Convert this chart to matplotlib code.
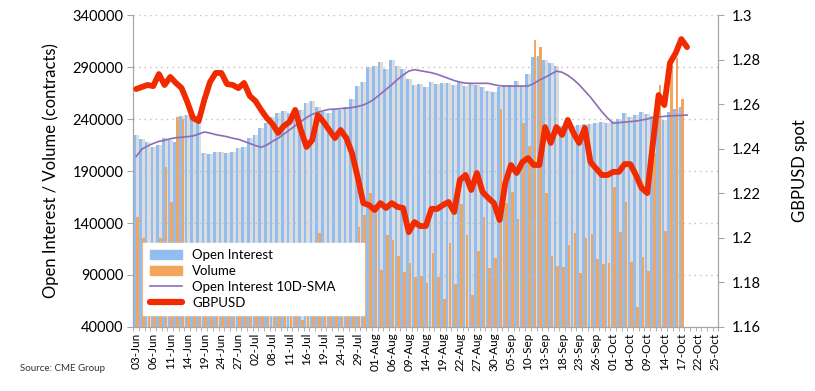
import numpy as np
import matplotlib
matplotlib.use('Agg')
import matplotlib.pyplot as plt
from matplotlib.patches import Patch
from matplotlib.lines import Line2D
from matplotlib.ticker import FuncFormatter

plt.rcParams['font.family'] = ['Lato', 'DejaVu Sans']

# Trading-day categories 03-Jun .. 25-Oct (every 3rd one labelled)
n_categories = 103
tick_labels = ['03-Jun', '06-Jun', '11-Jun', '14-Jun', '19-Jun', '24-Jun', '27-Jun',
               '02-Jul', '08-Jul', '11-Jul', '16-Jul', '19-Jul', '24-Jul', '29-Jul',
               '01-Aug', '06-Aug', '09-Aug', '14-Aug', '19-Aug', '22-Aug', '27-Aug',
               '30-Aug', '05-Sep', '10-Sep', '13-Sep', '18-Sep', '23-Sep', '26-Sep',
               '01-Oct', '04-Oct', '09-Oct', '14-Oct', '17-Oct', '22-Oct', '25-Oct']
left_ticks = [40000, 90000, 140000, 190000, 240000, 290000, 340000]
right_ticks = [1.16, 1.18, 1.20, 1.22, 1.24, 1.26, 1.28, 1.30]

# Open interest (thousand contracts)
open_interest = [224.6, 220.5, 218.2, 213.4, 215.0, 221.5, 219.8, 218.0, 243.0, 243.8,
                 243.5, 242.5, 207.0, 206.5, 208.6, 208.6, 207.0, 208.6, 211.8, 213.4,
                 221.4, 224.6, 231.0, 235.8, 242.2, 246.1, 247.7, 245.5, 247.0, 248.7,
                 255.1, 257.6, 251.2, 247.0, 245.5, 249.3, 248.7, 251.9, 258.9, 271.7,
                 275.6, 290.3, 291.0, 295.1, 288.1, 296.7, 291.0, 287.8, 278.2, 272.7,
                 273.7, 270.5, 275.9, 273.7, 274.3, 274.3, 272.7, 275.3, 271.7, 273.4,
                 272.7, 270.5, 266.9, 266.3, 270.5, 272.7, 272.7, 276.5, 271.7, 283.3,
                 299.3, 301.0, 296.7, 293.5, 291.0, 233.0, 234.0, 233.5, 234.0, 235.0,
                 235.0, 236.0, 237.0, 236.5, 238.0, 240.0, 245.5, 242.0, 243.8, 246.5,
                 244.9, 243.0, 241.0, 239.0, 247.0, 250.0, 252.0]

# Volume (thousand contracts)
volume = [146.0, 125.6, 98.0, 92.0, 125.6, 194.0, 160.5, 242.0, 240.0, 95.0,
          110.0, 88.0, 105.0, 72.0, 80.0, 66.0, 90.0, 78.0, 84.0, 70.0,
          96.0, 88.0, 75.0, 120.5, 82.0, 68.0, 100.0, 74.0, 86.0, 47.0,
          92.0, 106.0, 130.7, 95.0, 78.0, 84.0, 70.0, 90.0, 102.0, 136.5,
          147.7, 169.0, 157.0, 94.8, 128.0, 124.0, 107.8, 93.2, 101.3, 88.0,
          88.7, 82.3, 111.6, 88.4, 66.6, 121.2, 81.2, 157.8, 128.8, 70.3,
          112.7, 145.3, 96.4, 106.0, 249.3, 159.7, 170.1, 143.6, 236.5, 214.5,
          316.0, 309.0, 168.5, 108.7, 99.1, 98.0, 118.4, 130.7, 92.2, 125.9,
          129.7, 105.1, 100.1, 101.3, 175.0, 131.7, 160.5, 102.8, 59.6, 107.6,
          94.2, 207.0, 272.7, 132.6, 291.0, 298.4, 258.9]

# Open interest 10-day SMA (thousand contracts)
oi_sma = [204.0, 211.0, 214.0, 216.5, 218.5, 219.5, 221.0, 222.0, 222.5, 223.0,
          223.7, 225.5, 227.5, 226.5, 225.0, 224.0, 223.0, 221.5, 220.5, 218.5,
          216.5, 214.5, 212.8, 215.0, 218.5, 221.5, 225.5, 229.5, 233.5, 237.5,
          241.5, 244.5, 246.5, 248.0, 249.3, 249.5, 250.0, 250.5, 251.0, 252.0,
          253.5, 256.0, 259.5, 264.0, 268.5, 273.0, 278.0, 282.3, 286.0, 287.5,
          286.5, 285.5, 284.5, 283.0, 281.0, 279.0, 277.0, 275.5, 274.5, 274.3,
          274.3, 274.3, 274.3, 273.0, 272.0, 271.7, 271.7, 271.7, 271.7, 271.7,
          274.0, 277.5, 280.0, 283.0, 286.0, 285.0, 282.0, 278.0, 273.0, 267.0,
          261.0, 254.0, 247.0, 241.0, 236.0, 236.5, 237.0, 237.5, 238.0, 239.0,
          240.0, 241.3, 242.0, 242.5, 243.0, 243.3, 243.5, 243.8]

# GBPUSD spot
gbpusd = [1.2668, 1.2677, 1.2686, 1.2681, 1.2735, 1.2686, 1.2722, 1.2695, 1.2672, 1.2610,
          1.2538, 1.2524, 1.2619, 1.2699, 1.2740, 1.2740, 1.2690, 1.2686, 1.2672, 1.2695,
          1.2637, 1.2614, 1.2574, 1.2538, 1.2511, 1.2471, 1.2502, 1.2520, 1.2574, 1.2484,
          1.2408, 1.2439, 1.2551, 1.2520, 1.2484, 1.2448, 1.2484, 1.2448, 1.2381, 1.2273,
          1.2156, 1.2147, 1.2125, 1.2156, 1.2134, 1.2156, 1.2139, 1.2134, 1.2026, 1.2071,
          1.2053, 1.2053, 1.2130, 1.2130, 1.2147, 1.2161, 1.2116, 1.2260, 1.2282, 1.2215,
          1.2291, 1.2206, 1.2179, 1.2156, 1.2080, 1.2246, 1.2327, 1.2291, 1.2340, 1.2358,
          1.2327, 1.2327, 1.2497, 1.2426, 1.2497, 1.2462, 1.2529, 1.2471, 1.2426, 1.2493,
          1.2340, 1.2311, 1.2282, 1.2282, 1.2296, 1.2296, 1.2331, 1.2331, 1.2282, 1.2224,
          1.2201, 1.2426, 1.2641, 1.2596, 1.2785, 1.2829, 1.2892, 1.2856]

C_OI = '#92BDF0'
C_VOL = '#F4A55C'
C_SHADOW = '#DCDCDC'
C_SMA = '#8C6CB6'
C_FX = '#F02B00'
C_AXIS = '#A6A6A6'

fig = plt.figure(figsize=(8.15, 3.91), dpi=100)
ax = fig.add_axes([0.1636, 0.1637, 0.7177, 0.7979])
ax2 = ax.twinx()

oi = np.array(open_interest) * 1000
vol = np.array(volume) * 1000
sma = np.array(oi_sma) * 1000
x_bar = np.arange(len(oi))

ax.bar(x_bar, oi, width=1.0, color=C_SHADOW, zorder=1)
ax.bar(x_bar - 0.24, oi, width=0.46, color=C_OI, zorder=2)
ax.bar(x_bar + 0.24, vol, width=0.46, color=C_VOL, zorder=2)
ax.plot(np.arange(len(sma)), sma, color=C_SMA, lw=1.2, zorder=3)

ax2.plot(np.arange(len(gbpusd)), gbpusd, color=C_FX, lw=4.2,
         solid_joinstyle='round', solid_capstyle='round', zorder=4)

ax.set_xlim(-0.5, n_categories - 0.5)
ax.set_ylim(left_ticks[0], left_ticks[-1])
ax.set_yticks(left_ticks)
ax2.set_ylim(right_ticks[0], right_ticks[-1])
ax2.set_yticks(right_ticks)
ax2.yaxis.set_major_formatter(FuncFormatter(lambda v, p: f'{v:g}'))

ax.grid(axis='y', color='#BFBFBF', linestyle=(0, (1, 3)), lw=1.0, zorder=2.5)
ax.set_axisbelow(False)

ax.set_xticks(np.arange(0, n_categories, 3))
ax.set_xticklabels(tick_labels, rotation=90, fontsize=8.5)
ax.set_xticks(np.arange(-0.5, n_categories, 1), minor=True)
ax.tick_params(axis='x', which='major', length=0, pad=4)
ax.tick_params(axis='x', which='minor', length=3, color=C_AXIS)
ax.tick_params(axis='y', labelsize=10.5, length=4, color=C_AXIS, pad=3)
ax2.tick_params(axis='y', labelsize=10.5, length=4, color=C_AXIS, pad=6)

for a in (ax, ax2):
    a.spines['top'].set_visible(False)
    for s in ('left', 'right', 'bottom'):
        a.spines[s].set_color(C_AXIS)
ax.set_ylabel('Open Interest / Volume (contracts)', fontsize=12, labelpad=10)
ax2.set_ylabel('GBPUSD spot', fontsize=12, labelpad=22)

handles = [Patch(color=C_OI), Patch(color=C_VOL),
           Line2D([], [], color=C_SMA, lw=1.2),
           Line2D([], [], color=C_FX, lw=4.5, solid_capstyle='round')]
labels = ['Open Interest', 'Volume', 'Open Interest 10D-SMA', 'GBPUSD']
leg = ax2.legend(handles, labels, loc='lower left', bbox_to_anchor=(0.017, 0.038, 0.377, 0.222),
                 mode='expand', fontsize=9.5, frameon=True, fancybox=False,
                 handlelength=2.4, labelspacing=0.28, borderpad=0.5, borderaxespad=0)
leg.get_frame().set_facecolor('white')
leg.get_frame().set_edgecolor('white')
leg.get_frame().set_alpha(1)
leg.set_zorder(10)

fig.text(0.025, 0.052, 'Source: CME Group', fontsize=7, color='#333333')

plt.savefig('out.png', dpi=100)
plt.close()
